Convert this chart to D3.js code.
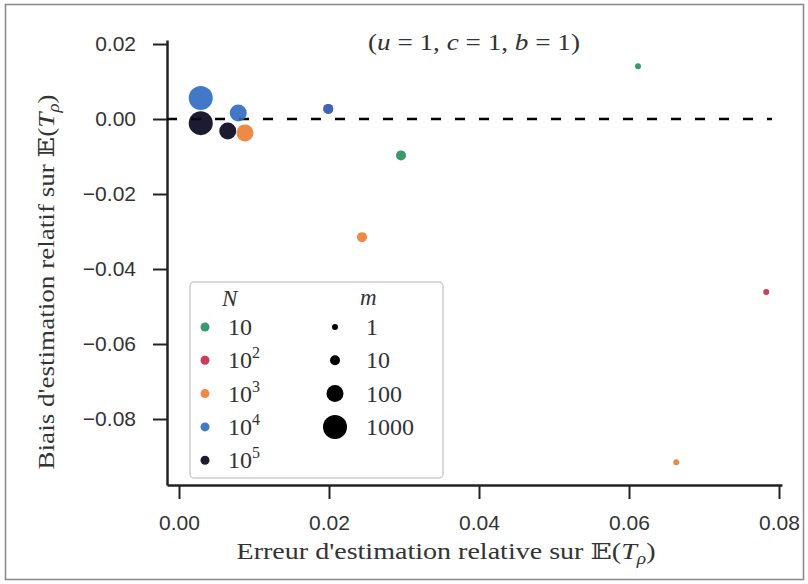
<!DOCTYPE html>
<html><head><meta charset="utf-8">
<script src="https://cdn.jsdelivr.net/npm/d3@7"></script>
<style>body{margin:0;background:#fff} svg{display:block}</style>
</head><body><svg id="c" width="808" height="584"></svg>
<script>
// ---- data ----
const nExponents = [1, 2, 3, 4, 5];            // N = 10^k
const nColors = ["#248f5c", "#c62848", "#ea7d32", "#2d69c2", "#04021a"];
const mValues = [1, 10, 100, 1000];
const mRadii = [3, 5, 8.5, 12];
const xTicks = [0, 0.02, 0.04, 0.06, 0.08];
const yTicks = [0.02, 0, -0.02, -0.04, -0.06, -0.08];
const xDomain = [-0.0016, 0.0804];
const yDomain = [0.02107, -0.0976];

// N = 10
const errN1 = [0.0612, 0.0296], biasN1 = [0.0141, -0.0097], mN1 = [1, 10];
// N = 10^2
const errN2 = [0.0783, 0.0199], biasN2 = [-0.0461, 0.0027], mN2 = [1, 10];
// N = 10^3
const errN3 = [0.0663, 0.0244, 0.0088], biasN3 = [-0.0915, -0.0315, -0.0037], mN3 = [1, 10, 100];
// N = 10^4
const errN4 = [0.0199, 0.0079, 0.0029], biasN4 = [0.0027, 0.0016, 0.0056], mN4 = [10, 100, 1000];
// N = 10^5
const errN5 = [0.0065, 0.0029], biasN5 = [-0.0032, -0.0011], mN5 = [100, 1000];

const series = [
  {k: 1, err: errN1, bias: biasN1, m: mN1},
  {k: 2, err: errN2, bias: biasN2, m: mN2},
  {k: 4, err: errN4, bias: biasN4, m: mN4},
  {k: 5, err: errN5, bias: biasN5, m: mN5},
  {k: 3, err: errN3, bias: biasN3, m: mN3}
];

// ---- drawing ----
const svg = d3.select("#c");
const serif = "'Liberation Serif', 'DejaVu Serif', serif";
const sans = "'Liberation Sans', Arial, sans-serif";
const ink = "#333";

svg.append("rect").attr("x", 5.5).attr("y", 4.5).attr("width", 798).attr("height", 575)
  .attr("fill", "none").attr("stroke", "#888").attr("stroke-width", 1.5);

const x = d3.scaleLinear().domain(xDomain).range([167, 782]);
const y = d3.scaleLinear().domain(yDomain).range([40, 485]);
const color = d3.scaleOrdinal().domain(nExponents).range(nColors);
const radius = d3.scaleOrdinal().domain(mValues).range(mRadii);

const xAxis = d3.axisBottom(x).tickValues(xTicks).tickFormat(d3.format(".2f"))
  .tickSize(14).tickSizeOuter(0).tickPadding(16);
const yAxis = d3.axisLeft(y).tickValues(yTicks).tickFormat(d3.format(".2f"))
  .tickSize(14).tickSizeOuter(0).tickPadding(17);

const gx = svg.append("g").attr("transform", "translate(0,485)").call(xAxis);
const gy = svg.append("g").attr("transform", "translate(167,0)").call(yAxis);
[gx, gy].forEach(g => {
  g.select(".domain").attr("stroke", "#222").attr("stroke-width", 2.5);
  g.selectAll(".tick line").attr("stroke", "#222").attr("stroke-width", 2);
  g.selectAll(".tick text").attr("font-family", sans).attr("font-size", 21).attr("fill", ink);
});

// zero line
svg.append("line").attr("x1", 167).attr("x2", 772).attr("y1", y(0)).attr("y2", y(0))
  .attr("stroke", "#000").attr("stroke-width", 2.5).attr("stroke-dasharray", "10,14");

// points
const pts = [];
series.forEach(s => s.err.forEach((e, i) => pts.push({k: s.k, e, b: s.bias[i], m: s.m[i]})));
svg.append("g").selectAll("circle").data(pts).join("circle")
  .attr("cx", d => x(d.e)).attr("cy", d => y(d.b)).attr("r", d => radius(d.m))
  .attr("fill", d => color(d.k)).attr("fill-opacity", 0.9);

// title
const t = svg.append("text").attr("x", 474).attr("y", 50).attr("text-anchor", "middle")
  .attr("font-family", serif).attr("font-size", 23).attr("fill", ink)
  .attr("textLength", 212).attr("lengthAdjust", "spacingAndGlyphs");
[["(", 0], ["u", 1], [" = 1, ", 0], ["c", 1], [" = 1, ", 0], ["b", 1], [" = 1)", 0]].forEach(([s, it]) =>
  t.append("tspan").attr("font-style", it ? "italic" : "normal").text(s));

// axis labels
function eLabel(sel, txt) {
  sel.append("tspan").text(txt + " 𝔼(");
  sel.append("tspan").attr("font-style", "italic").text("T");
  sel.append("tspan").attr("font-style", "italic").attr("font-size", 16).attr("dy", 5).text("ρ");
  sel.append("tspan").attr("dy", -5).text(")");
}
const xl = svg.append("text").attr("x", 446).attr("y", 559).attr("text-anchor", "middle")
  .attr("font-family", serif).attr("font-size", 23).attr("fill", ink)
  .attr("textLength", 419).attr("lengthAdjust", "spacingAndGlyphs");
eLabel(xl, "Erreur d'estimation relative sur");
const yl = svg.append("text").attr("transform", "translate(54,282) rotate(-90)").attr("text-anchor", "middle")
  .attr("font-family", serif).attr("font-size", 23).attr("fill", ink)
  .attr("textLength", 375).attr("lengthAdjust", "spacingAndGlyphs");
eLabel(yl, "Biais d'estimation relatif sur");

// legend
const lg = svg.append("g");
lg.append("rect").attr("x", 190).attr("y", 282).attr("width", 253).attr("height", 196).attr("rx", 4)
  .attr("fill", "#fff").attr("fill-opacity", 0.85).attr("stroke", "#ccc").attr("stroke-width", 1.5);
lg.append("text").attr("x", 222).attr("y", 306).attr("font-family", serif).attr("font-style", "italic")
  .attr("font-size", 23).attr("fill", ink).text("N");
lg.append("text").attr("x", 360).attr("y", 305).attr("font-family", serif).attr("font-style", "italic")
  .attr("font-size", 23).attr("fill", ink).text("m");
const rowY = i => 327 + i * 33.3;
nExponents.forEach((k, i) => {
  lg.append("circle").attr("cx", 205).attr("cy", rowY(i)).attr("r", 4.5).attr("fill", color(k)).attr("fill-opacity", 0.9);
  const tx = lg.append("text").attr("x", 228).attr("y", rowY(i) + 8).attr("font-family", serif)
    .attr("font-size", 24).attr("fill", ink).text("10");
  if (k > 1) tx.append("tspan").attr("dy", -10).attr("font-size", 16).text(k);
});
mValues.forEach((m, i) => {
  lg.append("circle").attr("cx", 335).attr("cy", rowY(i)).attr("r", radius(m)).attr("fill", "#000");
  lg.append("text").attr("x", 366).attr("y", rowY(i) + 8).attr("font-family", serif)
    .attr("font-size", 24).attr("fill", ink).text(m);
});
</script>
</body></html>
